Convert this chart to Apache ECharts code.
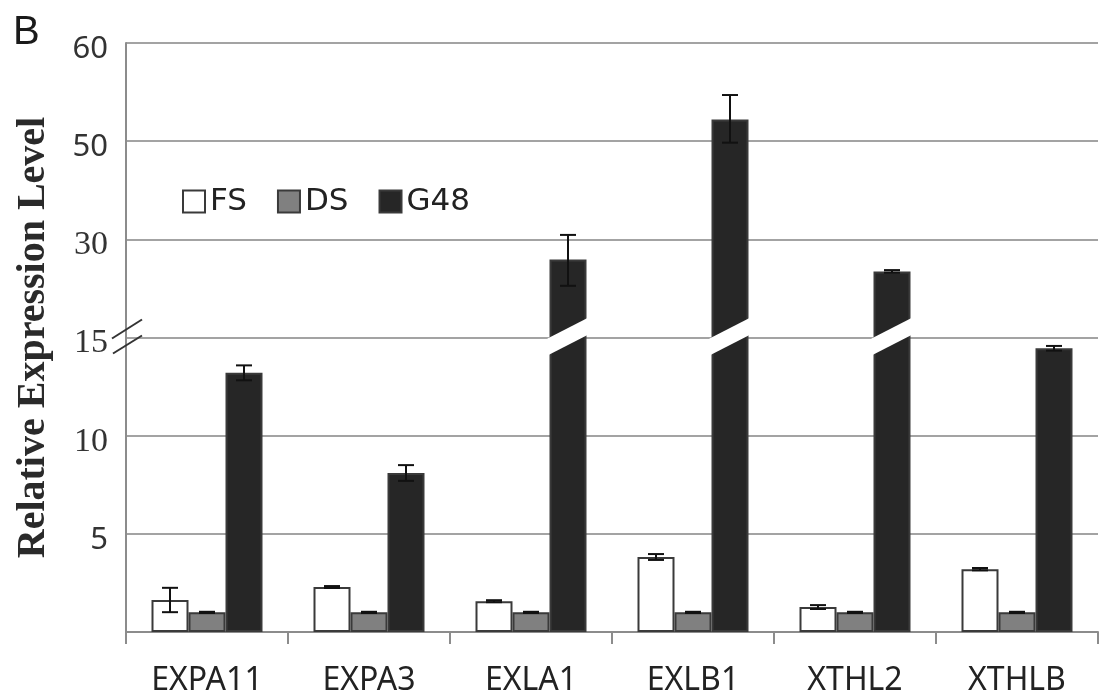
<!DOCTYPE html>
<html>
<head>
<meta charset="utf-8">
<title>Relative Expression Level</title>
<script src="https://cdn.jsdelivr.net/npm/echarts@6/dist/echarts.min.js"></script>
<style>
  html, body { margin: 0; padding: 0; background: #ffffff; }
  #chart { width: 1100px; height: 698px; }
</style>
</head>
<body>
<div id="chart"></div>
<script>
// Genes on the x axis
const categories = ['EXPA11', 'EXPA3', 'EXLA1', 'EXLB1', 'XTHL2', 'XTHLB'];
const seriesNames = ['FS', 'DS', 'G48'];

// Mean relative expression and error (SD) per gene
const fsValues  = [1.63, 2.29, 1.57, 3.82, 1.27, 3.20];
const fsErrors  = [0.62, 0.05, 0.05, 0.15, 0.10, 0.06];
const dsValues  = [1.00, 1.00, 1.00, 1.00, 1.00, 1.00];
const dsErrors  = [0.03, 0.03, 0.03, 0.03, 0.03, 0.03];
const g48Values = [13.2, 8.1, 26.9, 52.2, 25.1, 14.45];
const g48Errors = [0.38, 0.40, 4.0, 2.5, 0.20, 0.12];

// Y tick labels; the axis is broken above 15
const yTickLabels = [5, 10, 15, 30, 50, 60];
const axisBreakValue = 15;

// Piecewise-linear axis: each labelled tick occupies one unit on the value axis
const breaks = [0].concat(yTickLabels);
function toAxis(v) {
  for (let i = 0; i < breaks.length - 1; i++) {
    if (v <= breaks[i + 1] || i === breaks.length - 2) {
      return i + (v - breaks[i]) / (breaks[i + 1] - breaks[i]);
    }
  }
  return 0;
}

const BAR_W = 37;
const serifTicks = new Set([10, 15, 30]);

const valueSets = [fsValues, dsValues, g48Values];
const errorSets = [fsErrors, dsErrors, g48Errors];
const fills = ['#ffffff', '#808080', '#262626'];

const barSeries = seriesNames.map((name, k) => ({
  name: name,
  type: 'bar',
  barWidth: BAR_W,
  barGap: '0%',
  z: 2,
  itemStyle: { color: fills[k], borderColor: '#3a3a3a', borderWidth: 2 },
  data: valueSets[k].map(v => toAxis(v))
}));

// Error bars: [category, group, mean, error, mappedTop]
const errorData = [];
valueSets.forEach((vals, k) => {
  vals.forEach((v, i) => {
    errorData.push([i, k, v, errorSets[k][i], toAxis(v + errorSets[k][i])]);
  });
});

// Break bands across bars that pass the axis break
const bandData = [];
g48Values.forEach((v, i) => { if (v > axisBreakValue) bandData.push([i, 2, toAxis(axisBreakValue)]); });

const chart = echarts.init(document.getElementById('chart'), null, { renderer: 'canvas' });

chart.setOption({
  animation: false,
  backgroundColor: '#ffffff',
  grid: { left: 126, right: 2, top: 43, bottom: 66, outerBoundsMode: 'none', containLabel: false },
  graphic: [{
    type: 'text', left: 13, top: 13,
    style: { text: 'B', fontFamily: 'Liberation Sans', fontSize: 40, fill: '#1a1a1a' }
  }],
  legend: {
    data: seriesNames,
    left: 177, top: 181,
    icon: 'rect',
    itemWidth: 22, itemHeight: 22,
    itemGap: 30,
    textStyle: { fontFamily: 'DejaVu Sans', fontSize: 31, color: '#222222' }
  },
  xAxis: {
    type: 'category',
    data: categories,
    boundaryGap: true,
    axisLine: { show: true, lineStyle: { color: '#8c8c8c', width: 2 } },
    axisTick: { show: true, alignWithLabel: false, length: 12, lineStyle: { color: '#8c8c8c', width: 2 } },
    axisLabel: { fontFamily: 'Noto Sans', fontSize: 32, color: '#222222', margin: 33 }
  },
  yAxis: {
    type: 'value',
    min: 0, max: yTickLabels.length, interval: 1,
    name: 'Relative Expression Level',
    nameLocation: 'middle',
    nameRotate: 90,
    nameGap: 72,
    nameTextStyle: { fontFamily: 'Liberation Serif', fontWeight: 'bold', fontSize: 40, color: '#2a2a2a' },
    axisLine: { show: true, lineStyle: { color: '#8c8c8c', width: 2 } },
    axisTick: { show: false },
    splitLine: { show: true, lineStyle: { color: '#a3a3a3', width: 2 } },
    axisLabel: {
      margin: 18,
      formatter: function (val) {
        const idx = Math.round(val);
        if (idx === 0) return '';
        const t = yTickLabels[idx - 1];
        return serifTicks.has(t) ? '{serif|' + t + '}' : '{sans|' + t + '}';
      },
      rich: {
        sans: { fontFamily: 'Noto Sans', fontSize: 31, color: '#333333', padding: [12, 0, 0, 0] },
        serif: { fontFamily: 'Liberation Serif', fontSize: 34, color: '#333333', padding: [12, 0, 0, 0] }
      }
    }
  },
  series: barSeries.concat([
    {
      name: 'errors',
      type: 'custom',
      z: 5,
      encode: { x: 0, y: 4 },
      data: errorData,
      renderItem: function (params, api) {
        const ci = api.value(0), gi = api.value(1), v = api.value(2), e = api.value(3);
        const top = api.coord([ci, toAxis(v + e)]);
        const bot = api.coord([ci, toAxis(Math.max(v - e, 0))]);
        const x = top[0] + (gi - 1) * BAR_W;
        const cap = 8;
        const st = { stroke: '#111111', lineWidth: 2 };
        return {
          type: 'group',
          children: [
            { type: 'line', shape: { x1: x, y1: top[1], x2: x, y2: bot[1] }, style: st },
            { type: 'line', shape: { x1: x - cap, y1: top[1], x2: x + cap, y2: top[1] }, style: st },
            { type: 'line', shape: { x1: x - cap, y1: bot[1], x2: x + cap, y2: bot[1] }, style: st }
          ]
        };
      }
    },
    {
      name: 'barBreaks',
      type: 'custom',
      z: 6,
      encode: { x: 0, y: 2 },
      data: bandData,
      renderItem: function (params, api) {
        const ci = api.value(0), gi = api.value(1);
        const p = api.coord([ci, api.value(2)]);
        const xc = p[0] + (gi - 1) * BAR_W;
        const yc = p[1];
        const L = xc - BAR_W / 2 - 2, R = xc + BAR_W / 2 + 2;
        return {
          type: 'polygon',
          shape: { points: [[L, yc + 1], [R, yc - 20], [R, yc - 3], [L, yc + 18]] },
          style: { fill: '#ffffff' }
        };
      }
    },
    {
      name: 'axisBreak',
      type: 'custom',
      z: 6,
      encode: { x: 0, y: 1 },
      data: [[0, toAxis(axisBreakValue)]],
      renderItem: function (params, api) {
        const ax = params.coordSys.x;
        const yc = api.coord([0, api.value(1)])[1];
        const st = { stroke: '#333333', lineWidth: 2 };
        return {
          type: 'group',
          children: [
            { type: 'line', shape: { x1: ax - 14, y1: yc + 1, x2: ax + 16, y2: yc - 18 }, style: st },
            { type: 'line', shape: { x1: ax - 13, y1: yc + 16, x2: ax + 16, y2: yc - 2 }, style: st }
          ]
        };
      }
    }
  ])
});
</script>
</body>
</html>
